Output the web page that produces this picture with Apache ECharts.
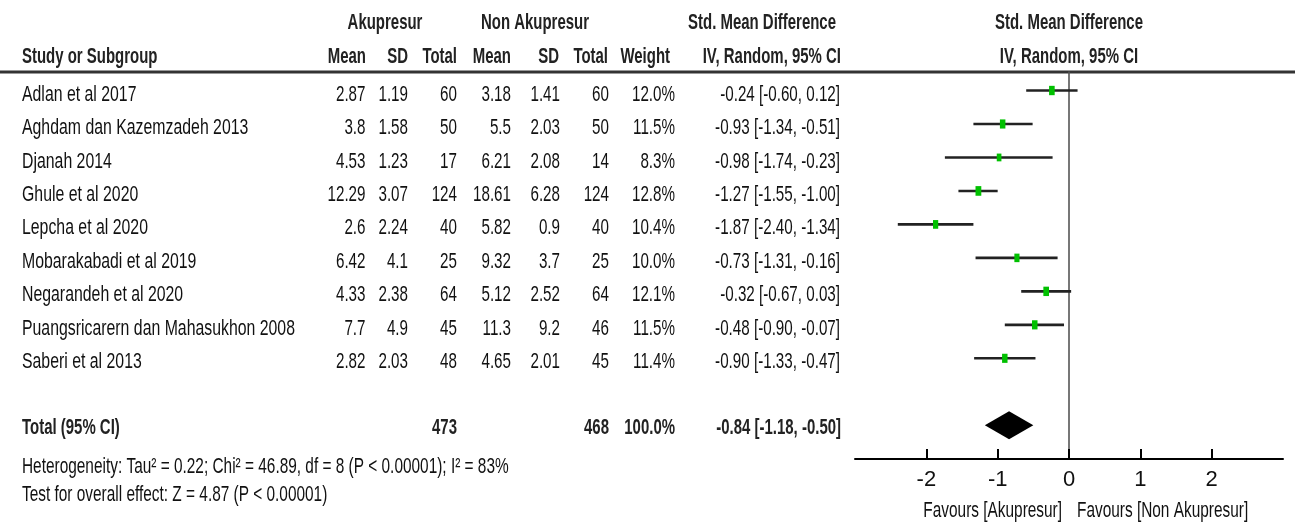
<!DOCTYPE html>
<html>
<head>
<meta charset="utf-8">
<script src="https://cdn.jsdelivr.net/npm/echarts@6/dist/echarts.min.js"></script>
<style>
html,body{margin:0;padding:0;background:#fff;}
#c{width:1295px;height:525px;}
</style>
</head>
<body>
<div id="c"></div>
<script>
// ---------------- DATA ----------------
const studies = [
  'Adlan et al 2017',
  'Aghdam dan Kazemzadeh 2013',
  'Djanah 2014',
  'Ghule et al 2020',
  'Lepcha et al 2020',
  'Mobarakabadi et al 2019',
  'Negarandeh et al 2020',
  'Puangsricarern dan Mahasukhon 2008',
  'Saberi et al 2013'
];
const meanA = [2.87, 3.8, 4.53, 12.29, 2.6, 6.42, 4.33, 7.7, 2.82];
const sdA   = [1.19, 1.58, 1.23, 3.07, 2.24, 4.1, 2.38, 4.9, 2.03];
const nA    = [60, 50, 17, 124, 40, 25, 64, 45, 48];
const meanN = [3.18, 5.5, 6.21, 18.61, 5.82, 9.32, 5.12, 11.3, 4.65];
const sdN   = [1.41, 2.03, 2.08, 6.28, 0.9, 3.7, 2.52, 9.2, 2.01];
const nN    = [60, 50, 14, 124, 40, 25, 64, 46, 45];
const weight = [12.0, 11.5, 8.3, 12.8, 10.4, 10.0, 12.1, 11.5, 11.4];
const smd    = [-0.24, -0.93, -0.98, -1.27, -1.87, -0.73, -0.32, -0.48, -0.90];
const ciLow  = [-0.60, -1.34, -1.74, -1.55, -2.40, -1.31, -0.67, -0.90, -1.33];
const ciHigh = [0.12, -0.51, -0.23, -1.00, -1.34, -0.16, 0.03, -0.07, -0.47];
const totalA = 473, totalN = 468, totalWeight = 100.0;
const totalSmd = -0.84, totalLow = -1.18, totalHigh = -0.50;
const tau2 = '0.22', chi2 = '46.89', dfHet = 8, i2 = 83, zStat = '4.87';
const xTicks = [-2, -1, 0, 1, 2];
const totalRow = 10;

// ---------------- CHART ----------------
const chart = echarts.init(document.getElementById('c'), null, {renderer: 'canvas'});
const FONT = "'Liberation Sans', Arial, sans-serif";
const NARROW = "'Liberation Sans Narrow', 'Arial Narrow', 'Liberation Sans', sans-serif";

const studyData = studies.map((s, i) => [i, smd[i], ciLow[i], ciHigh[i], weight[i]]);
const totalData = [[totalRow, totalSmd, totalLow, totalHigh]];

const option = {
  animation: false,
  backgroundColor: '#fff',
  grid: {left: 855, right: 12, top: 72, bottom: 66, containLabel: false},
  xAxis: {
    type: 'value', min: -3, max: 3, interval: 1,
    axisLine: {onZero: false, lineStyle: {color: '#000', width: 2}},
    axisTick: {inside: true, length: 10, customValues: xTicks, lineStyle: {color: '#000', width: 2}},
    axisLabel: {customValues: xTicks, formatter: v => String(v), fontFamily: NARROW, fontSize: 22, color: '#111', margin: 10},
    splitLine: {show: false}
  },
  yAxis: {
    type: 'value', inverse: true, min: -0.553, max: 11.008,
    axisLine: {show: true, onZero: true, lineStyle: {color: '#555', width: 1.6}},
    axisTick: {show: false}, axisLabel: {show: false}, splitLine: {show: false}
  },
  series: [
    {
      type: 'custom',
      data: studyData,
      encode: {x: [1, 2, 3], y: 0},
      renderItem: function (params, api) {
        const y = api.value(0), est = api.value(1), lo = api.value(2), hi = api.value(3), w = api.value(4);
        const pLo = api.coord([lo, y]), pHi = api.coord([hi, y]), pE = api.coord([est, y]);
        const h = 2.7 * Math.sqrt(w), wd = h * 0.6;
        return {
          type: 'group',
          children: [
            {type: 'line', shape: {x1: pLo[0], y1: pLo[1], x2: pHi[0], y2: pHi[1]}, style: {stroke: '#222', lineWidth: 2.6}},
            {type: 'rect', shape: {x: pE[0] - wd / 2, y: pE[1] - h / 2, width: wd, height: h}, style: {fill: '#00c000'}}
          ]
        };
      }
    },
    {
      type: 'custom',
      data: totalData,
      encode: {x: [1, 2, 3], y: 0},
      renderItem: function (params, api) {
        const y = api.value(0), est = api.value(1), lo = api.value(2), hi = api.value(3);
        const pLo = api.coord([lo, y]), pHi = api.coord([hi, y]), pE = api.coord([est, y]);
        const hh = 14;
        return {
          type: 'polygon',
          shape: {points: [[pLo[0], pLo[1]], [pE[0], pE[1] - hh], [pHi[0], pHi[1]], [pE[0], pE[1] + hh]]},
          style: {fill: '#000'}
        };
      }
    }
  ]
};
chart.setOption(option);

// ---------------- TABLE TEXT ----------------
function rowY(i) { return chart.convertToPixel({yAxisIndex: 0}, i) + 4; }
const zeroX = chart.convertToPixel({xAxisIndex: 0}, 0);

function T(str, x, y, align, bold, sx, size) {
  return {
    type: 'text', x: x, y: y, scaleX: sx, scaleY: 1, silent: true,
    style: {
      text: str, x: 0, y: 0,
      align: align, verticalAlign: 'middle',
      textAlign: align, textVerticalAlign: 'middle',
      fontFamily: FONT, fontSize: size || 22, fontWeight: bold ? 'bold' : 'normal',
      fill: bold ? '#222' : '#111'
    }
  };
}
const SN = 0.72, SV = 0.69, SB = 0.68, SF = 0.70;
const f2 = v => v.toFixed(2);
const ci = (e, l, h) => f2(e) + ' [' + f2(l) + ', ' + f2(h) + ']';

const g = [];
// header line
g.push({type: 'line', silent: true, shape: {x1: 0, y1: 72, x2: 1295, y2: 72}, style: {stroke: '#333', lineWidth: 3}});
// header row 1
const h1 = 23, h2 = 57;
g.push(T('Akupresur', 385, h1, 'center', true, SB));
g.push(T('Non Akupresur', 535, h1, 'center', true, SB));
g.push(T('Std. Mean Difference', 836, h1, 'right', true, SB));
g.push(T('Std. Mean Difference', zeroX, h1, 'center', true, SB));
// header row 2
g.push(T('Study or Subgroup', 22, h2, 'left', true, SB));
g.push(T('Mean', 366, h2, 'right', true, SB));
g.push(T('SD', 408, h2, 'right', true, SB));
g.push(T('Total', 457, h2, 'right', true, SB));
g.push(T('Mean', 511, h2, 'right', true, SB));
g.push(T('SD', 559, h2, 'right', true, SB));
g.push(T('Total', 608, h2, 'right', true, SB));
g.push(T('Weight', 670, h2, 'right', true, SB));
g.push(T('IV, Random, 95% CI', 841, h2, 'right', true, SB));
g.push(T('IV, Random, 95% CI', zeroX, h2, 'center', true, SB));

// study rows
studies.forEach((s, i) => {
  const y = rowY(i);
  g.push(T(s, 22, y, 'left', false, SN));
  g.push(T(String(meanA[i]), 365.5, y, 'right', false, SV));
  g.push(T(String(sdA[i]), 408, y, 'right', false, SV));
  g.push(T(String(nA[i]), 457, y, 'right', false, SV));
  g.push(T(String(meanN[i]), 511, y, 'right', false, SV));
  g.push(T(String(sdN[i]), 560, y, 'right', false, SV));
  g.push(T(String(nN[i]), 609, y, 'right', false, SV));
  g.push(T(weight[i].toFixed(1) + '%', 675, y, 'right', false, SV));
  g.push(T(ci(smd[i], ciLow[i], ciHigh[i]), 840, y, 'right', false, SV));
});

// total row
const ty = rowY(totalRow) - 1;
g.push(T('Total (95% CI)', 22, ty, 'left', true, SB));
g.push(T(String(totalA), 457, ty, 'right', true, SB));
g.push(T(String(totalN), 609, ty, 'right', true, SB));
g.push(T(totalWeight.toFixed(1) + '%', 675, ty, 'right', true, SB));
g.push(T(ci(totalSmd, totalLow, totalHigh), 841, ty, 'right', true, SB));

// footer
g.push(T('Heterogeneity: Tau\u00b2 = ' + tau2 + '; Chi\u00b2 = ' + chi2 + ', df = ' + dfHet + ' (P < 0.00001); I\u00b2 = ' + i2 + '%', 22, 467, 'left', false, SF));
g.push(T('Test for overall effect: Z = ' + zStat + ' (P < 0.00001)', 22, 495, 'left', false, SF));

// favours labels
g.push(T('Favours [Akupresur]', zeroX - 7, 511, 'right', false, SF));
g.push(T('Favours [Non Akupresur]', zeroX + 8, 511, 'left', false, SF));

chart.setOption({graphic: {elements: g}});
</script>
</body>
</html>
